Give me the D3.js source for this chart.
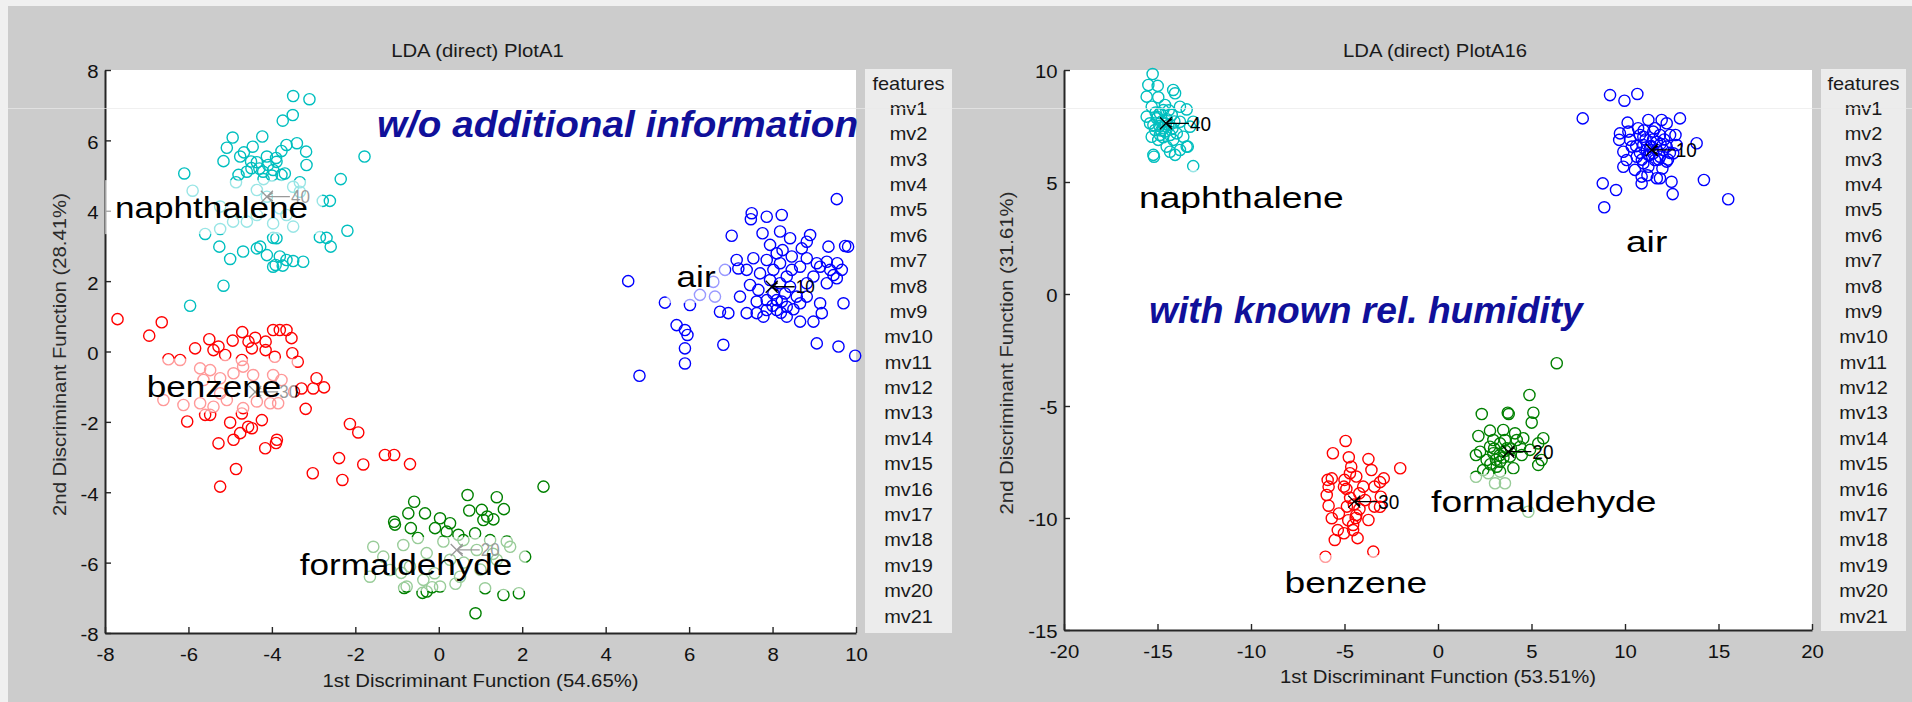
<!DOCTYPE html>
<html>
<head>
<meta charset="utf-8">
<script src="https://cdn.jsdelivr.net/npm/d3@7"></script>
<style>
  body { margin: 0; background: #f0f0f0; }
  svg { display: block; }
</style>
</head>
<body>
<svg id="chart" width="1912" height="702"></svg>
<script>
// ---- data ----
const classNames = ['air', 'formaldehyde', 'benzene', 'naphthalene'];
const classCodes = ['10', '20', '30', '40'];
const classColors = ['#0000ff', '#008000', '#ff0000', '#00bfbf'];

const leftXTicks = [-8, -6, -4, -2, 0, 2, 4, 6, 8, 10];
const leftYTicks = [-8, -6, -4, -2, 0, 2, 4, 6, 8];
const rightXTicks = [-20, -15, -10, -5, 0, 5, 10, 15, 20];
const rightYTicks = [-15, -10, -5, 0, 5, 10];

const featureItems = ['features', 'mv1', 'mv2', 'mv3', 'mv4', 'mv5', 'mv6', 'mv7', 'mv8', 'mv9', 'mv10',
  'mv11', 'mv12', 'mv13', 'mv14', 'mv15', 'mv16', 'mv17', 'mv18', 'mv19', 'mv20', 'mv21'];

const leftAir = [[9.54,4.33],[7.50,3.93],[7.48,3.76],[7.86,3.83],[8.22,3.88],[7.02,3.29],[7.76,3.36],[8.18,3.41],[8.42,3.22],[8.90,3.31],[7.94,3.03],[8.24,2.88],[8.70,2.93],[9.34,2.98],[9.74,3.00],[7.54,2.65],[7.86,2.60],[8.46,2.32],[8.82,2.65],[9.14,2.41],[9.55,2.51],[9.66,2.32],[7.18,2.36],[7.38,2.32],[6.86,2.32],[6.58,1.98],[6.26,1.61],[6.62,1.56],[6.02,1.32],[5.42,1.39],[4.54,2.00],[7.22,1.56],[7.46,1.89],[7.66,1.75],[7.94,2.03],[8.18,1.94],[8.34,2.13],[8.02,1.65],[8.22,1.42],[8.34,1.27],[8.10,1.18],[7.86,1.18],[7.62,1.09],[7.78,0.99],[8.34,0.99],[8.66,0.85],[8.98,0.85],[9.18,1.09],[8.82,1.94],[9.30,1.94],[9.54,2.08],[9.70,1.37],[6.74,1.13],[6.94,1.09],[5.70,0.75],[5.90,0.61],[5.96,0.47],[5.90,0.09],[5.90,-0.34],[6.82,0.19],[9.06,0.23],[9.58,0.14],[9.98,-0.12],[4.81,-0.69],[7.14,2.60],[7.38,1.09],[8.58,1.56],[8.82,1.56],[8.66,2.41],[9.06,2.51],[9.38,2.32],[8.02,2.32],[7.70,2.22],[8.18,2.51],[8.46,2.70],[8.10,2.79],[8.98,2.13],[9.46,2.17],[8.42,1.84],[7.86,1.46],[8.10,1.46],[7.62,1.42],[8.66,1.37],[9.14,1.37],[8.30,1.65],[8.82,3.12],[9.30,2.55],[9.81,2.98],[8.0,1.3],[8.2,1.1],[8.5,1.2]];

const leftFormaldehyde = [[2.51,-3.84],[0.69,-4.08],[1.39,-4.14],[-0.59,-4.27],[0.73,-4.52],[1.03,-4.50],[1.56,-4.48],[1.16,-4.69],[1.31,-4.77],[1.07,-4.79],[-0.73,-4.60],[-0.33,-4.60],[-1.07,-4.84],[-1.05,-4.92],[-0.67,-5.02],[0.03,-4.74],[0.27,-4.88],[-0.09,-5.02],[0.47,-5.21],[0.87,-5.17],[1.23,-5.36],[0.19,-5.12],[1.63,-5.40],[2.07,-5.83],[-1.57,-5.55],[-1.65,-6.40],[-0.85,-5.50],[-0.29,-5.73],[0.11,-5.40],[0.59,-5.36],[0.91,-5.64],[-0.69,-6.11],[-0.37,-6.49],[-0.77,-6.68],[-0.29,-6.82],[0.03,-6.68],[0.51,-6.40],[1.11,-6.73],[1.55,-6.92],[1.92,-6.87],[0.88,-7.44],[-1.17,-6.21],[0.27,-5.92],[1.71,-5.55],[1.39,-5.92],[-1.33,-5.83],[-0.90,-6.29],[-0.83,-6.72],[-0.39,-6.86],[-0.16,-6.70],[0.6,-6.0],[1.0,-6.2],[-0.1,-6.3],[0.4,-6.6],[1.3,-5.75],[-0.5,-5.3]];

const leftBenzene = [[-7.70,0.92],[-6.64,0.83],[-6.94,0.45],[-5.84,0.09],[-6.48,-0.22],[-6.20,-0.24],[-5.50,0.35],[-5.28,0.14],[-4.94,0.31],[-4.71,0.55],[-4.56,0.28],[-4.40,0.39],[-4.48,0.09],[-4.15,0.28],[-3.97,0.61],[-3.81,0.61],[-3.65,0.61],[-3.53,0.38],[-4.15,0.04],[-3.93,-0.15],[-3.51,-0.05],[-3.38,-0.29],[-5.40,0.04],[-5.12,-0.10],[-4.72,-0.24],[-2.93,-0.76],[-3.01,-1.05],[-2.75,-1.02],[-3.29,-1.05],[-3.19,-1.63],[-6.03,-1.99],[-5.00,-2.02],[-4.24,-1.95],[-4.48,-2.18],[-4.76,-2.32],[-4.92,-2.51],[-5.28,-2.61],[-4.16,-2.75],[-3.88,-2.51],[-3.90,-2.60],[-4.86,-3.34],[-5.24,-3.84],[-2.13,-2.06],[-1.93,-2.30],[-2.39,-3.03],[-1.81,-3.21],[-3.02,-3.46],[-2.31,-3.65],[-1.29,-2.94],[-1.07,-2.94],[-0.69,-3.20],[-5.72,-0.48],[-5.48,-0.53],[-5.64,-0.81],[-5.24,-0.76],[-4.92,-0.62],[-4.69,-0.43],[-4.45,-0.67],[-3.97,-0.67],[-3.77,-0.81],[-6.12,-1.52],[-5.72,-1.47],[-5.40,-1.57],[-5.08,-1.38],[-4.69,-1.61],[-4.36,-1.42],[-4.04,-1.47],[-3.85,-1.47],[-6.60,-1.38],[-5.48,-1.80],[-4.72,-1.76],[-5.24,-1.19],[-4.57,-2.14],[-5.60,-1.80],[-3.47,-1.14]];

const leftNaphthalene = [[-3.49,7.26],[-3.10,7.17],[-3.50,6.72],[-3.74,6.56],[-4.94,6.08],[-4.23,6.11],[-5.08,5.79],[-5.16,5.41],[-4.67,5.66],[-4.46,5.82],[-3.65,5.87],[-3.40,5.92],[-3.18,5.68],[-3.17,5.30],[-3.77,5.70],[-4.12,5.54],[-4.36,5.38],[-4.21,5.11],[-3.97,5.16],[-4.60,5.11],[-4.80,5.02],[-3.77,5.02],[-6.10,5.06],[-1.78,5.54],[-2.35,4.90],[-5.90,4.57],[-3.33,4.81],[-4.86,4.81],[-4.36,4.59],[-3.49,4.68],[-2.78,4.28],[-2.61,4.28],[-5.24,4.12],[-4.60,3.69],[-3.97,3.64],[-3.49,3.55],[-5.60,3.34],[-5.24,3.48],[-3.97,3.23],[-2.85,3.25],[-2.69,3.23],[-2.19,3.43],[-5.26,2.98],[-4.69,2.84],[-5.00,2.63],[-4.28,2.98],[-4.12,2.74],[-3.81,2.70],[-3.49,2.57],[-3.25,2.55],[-3.97,2.41],[-3.74,2.44],[-2.59,2.98],[-5.16,1.87],[-5.96,1.30],[-4.09,5.30],[-3.89,5.39],[-4.49,5.21],[-4.76,5.54],[-3.69,5.06],[-4.12,4.40],[-3.81,4.07],[-4.93,3.69],[-4.36,3.88],[-3.65,3.88],[-3.33,4.54],[-3.89,3.22],[-4.36,2.93],[-3.91,2.46],[-3.65,2.60],[-4.3,5.2],[-4.0,5.0],[-4.5,5.4],[-3.9,5.5],[-4.2,4.9]];

const rightAir = [[9.20,8.88],[9.97,8.63],[10.66,8.93],[7.74,7.84],[12.94,7.84],[11.25,7.77],[11.96,7.77],[10.14,7.65],[12.23,7.62],[13.83,6.73],[9.69,6.88],[10.18,7.25],[10.80,7.10],[11.51,7.25],[12.41,7.10],[12.76,6.65],[10.36,6.58],[10.98,6.65],[11.70,6.80],[12.23,6.58],[9.91,6.35],[10.63,6.13],[11.25,6.21],[11.87,6.13],[12.58,6.28],[10.09,5.98],[9.91,5.68],[10.53,5.54],[11.25,5.68],[12.23,5.91],[10.89,5.24],[11.70,5.17],[10.89,4.94],[12.49,5.01],[14.22,5.09],[8.81,4.94],[9.52,4.64],[12.55,4.46],[15.52,4.23],[8.89,3.87],[11.87,5.17],[11.34,6.58],[10.98,7.02],[11.87,7.10],[12.05,6.43],[11.60,5.98],[10.98,5.83],[10.27,6.88],[9.73,7.17],[11.51,6.28],[11.16,6.43],[11.70,6.43],[11.4,6.6],[11.9,6.7],[11.1,6.9],[12.4,6.3],[10.6,6.6],[11.6,7.4],[12.0,5.6],[10.7,7.4],[11.2,5.3],[12.7,7.1],[11.3,6.2],[11.8,6.0],[10.8,6.3],[12.1,6.9],[11.5,6.9],[10.9,6.0],[11.0,7.3],[12.3,6.0]];

const rightFormaldehyde = [[6.35,-3.09],[4.89,-4.51],[2.34,-5.36],[3.73,-5.30],[3.78,-5.36],[5.10,-5.30],[5.01,-5.74],[2.16,-6.34],[2.78,-6.10],[3.49,-6.07],[4.12,-6.22],[4.56,-6.44],[5.63,-6.44],[5.36,-6.67],[2.03,-7.19],[2.78,-6.82],[3.32,-6.67],[2.96,-7.11],[3.67,-6.89],[4.39,-6.82],[4.92,-6.96],[2.60,-7.41],[3.32,-7.49],[4.03,-7.78],[5.36,-7.63],[5.54,-7.41],[2.03,-8.16],[2.69,-8.00],[3.32,-7.93],[3.05,-8.45],[3.58,-8.45],[4.83,-9.72],[2.42,-7.86],[3.14,-7.71],[3.85,-7.26],[4.48,-7.19],[4.21,-6.52],[2.25,-7.04],[2.96,-6.52],[3.58,-6.52],[3.3,-7.2],[3.6,-7.0],[3.1,-7.4],[3.9,-6.9],[2.8,-7.6],[3.0,-6.9],[3.5,-7.3]];

const rightBenzene = [[-4.94,-6.56],[-5.62,-7.11],[-4.77,-7.29],[-3.72,-7.37],[-2.02,-7.78],[-4.64,-7.71],[-5.68,-8.23],[-4.71,-8.00],[-3.56,-7.86],[-2.90,-8.23],[-5.85,-8.60],[-5.03,-8.60],[-3.40,-8.60],[-5.95,-8.97],[-4.21,-8.90],[-3.06,-9.05],[-5.85,-9.45],[-4.87,-9.49],[-3.40,-9.49],[-5.68,-10.01],[-4.37,-9.87],[-3.72,-10.09],[-4.54,-10.31],[-5.36,-10.54],[-5.03,-10.68],[-5.52,-10.98],[-4.54,-10.54],[-6.02,-11.73],[-3.46,-11.50],[-4.37,-8.15],[-5.0,-8.3],[-3.9,-9.2],[-4.7,-9.1],[-5.3,-9.8],[-4.2,-9.6],[-3.1,-8.4],[-4.3,-10.9],[-4.9,-8.7],[-3.1,-9.5],[-5.9,-8.3],[-4.5,-9.4],[-4.4,-10.0],[-4.8,-10.1],[-4.0,-8.6]];

const rightNaphthalene = [[-15.26,9.82],[-15.49,9.33],[-14.99,9.29],[-14.16,9.11],[-15.58,8.81],[-14.96,8.78],[-14.06,8.96],[-15.31,8.36],[-14.60,8.44],[-13.80,8.36],[-13.44,8.24],[-14.87,8.07],[-14.24,7.99],[-15.40,7.62],[-14.78,7.69],[-14.42,7.54],[-13.80,7.69],[-13.09,7.69],[-15.13,7.32],[-14.60,7.25],[-13.97,7.17],[-14.96,6.88],[-14.16,6.88],[-13.44,6.58],[-14.51,6.58],[-15.22,6.21],[-14.33,6.35],[-14.06,6.21],[-13.09,5.71],[-15.58,7.92],[-15.04,7.84],[-14.69,8.21],[-15.22,7.54],[-14.69,7.40],[-14.33,7.10],[-13.62,7.02],[-14.87,7.10],[-13.80,6.43],[-13.26,7.47],[-15.31,7.02],[-15.19,6.13],[-13.38,6.58],[-14.9,7.5],[-14.5,7.8],[-14.7,7.0],[-14.2,7.4],[-15.0,7.9],[-14.4,8.2],[-14.8,7.3],[-14.1,7.7],[-14.55,7.6],[-15.1,8.1]];

// class centroids and where the class names sit (same order as classNames)
const leftCentroids = [[7.98, 1.84], [0.43, -5.64], [-4.4, -1.15], [-4.12, 4.40]];
const rightCentroids = [[11.43, 6.43], [3.76, -7.04], [-4.48, -9.27], [-14.55, 7.62]];
const leftLabelAt = [[5.70, 1.83], [-3.33, -6.35], [-7.0, -1.28], [-7.76, 3.79]];
const rightLabelAt = [[10.05, 1.875], [-0.37, -9.73], [-8.21, -13.35], [-15.99, 3.84]];

const panels = [
  {
    title: 'LDA (direct) PlotA1',
    xTitle: '1st Discriminant Function (54.65%)',
    yTitle: '2nd Discriminant Function (28.41%)',
    box: { left: 105, right: 856, top: 70, bottom: 633 },
    list: { left: 865, right: 952, top: 69, bottom: 633 },
    xDomain: [-8, 10], yDomain: [-8, 8],
    xTicks: leftXTicks, yTicks: leftYTicks,
    series: [leftAir, leftFormaldehyde, leftBenzene, leftNaphthalene],
    centroids: leftCentroids, labelAt: leftLabelAt,
    note: 'w/o additional information', noteAt: [-1.48, 6.10], noteSx: 1.045,
    labelSx: 1.17, codeSize: 18, yTitleGap: 39, xTitleGap: 54
  },
  {
    title: 'LDA (direct) PlotA16',
    xTitle: '1st Discriminant Function (53.51%)',
    yTitle: '2nd Discriminant Function (31.61%)',
    box: { left: 1064, right: 1812, top: 70, bottom: 630 },
    list: { left: 1821, right: 1906, top: 69, bottom: 631 },
    xDomain: [-20, 20], yDomain: [-15, 10],
    xTicks: rightXTicks, yTicks: rightYTicks,
    series: [rightAir, rightFormaldehyde, rightBenzene, rightNaphthalene],
    centroids: rightCentroids, labelAt: rightLabelAt,
    note: 'with known rel. humidity', noteAt: [-15.45, -1.29], noteSx: 1.005,
    labelSx: 1.24, codeSize: 20, yTitleGap: 51, xTitleGap: 53
  }
];

const FONT = '"Liberation Sans", Arial, Helvetica, sans-serif';
const svg = d3.select('#chart');

svg.append('rect').attr('width', 1912).attr('height', 702).attr('fill', '#f0f0f0');
svg.append('rect').attr('x', 8).attr('y', 6).attr('width', 1904).attr('height', 696).attr('fill', '#cccccc');

// text that is slightly widened, like the original rendering
function stext (sel, x, y, txt, o) {
  return sel.append('text')
    .attr('transform', `translate(${x},${y})${o.rotate ? ` rotate(${o.rotate})` : ''} scale(${o.sx || 1},1)`)
    .attr('text-anchor', o.anchor || 'start')
    .attr('font-family', FONT)
    .attr('font-size', o.size)
    .attr('font-weight', o.weight || 'normal')
    .attr('font-style', o.style || 'normal')
    .attr('fill', o.fill || '#111')
    .text(txt);
}

function drawPanel (p) {
  const g = svg.append('g');
  const b = p.box;
  const x = d3.scaleLinear().domain(p.xDomain).range([b.left, b.right]);
  const y = d3.scaleLinear().domain(p.yDomain).range([b.bottom, b.top]);
  const midX = (b.left + b.right) / 2;

  g.append('rect')
    .attr('x', b.left).attr('y', b.top)
    .attr('width', b.right - b.left).attr('height', b.bottom - b.top)
    .attr('fill', '#ffffff');

  stext(g, midX - 3, 57, p.title, { anchor: 'middle', size: 19, sx: 1.07, fill: '#1a1a1a' });

  // axes, ticks pointing inside like MATLAB
  const xAxis = d3.axisBottom(x).tickValues(p.xTicks).tickSizeInner(-6).tickSizeOuter(0)
    .tickPadding(14.5).tickFormat(d => String(d));
  const yAxis = d3.axisLeft(y).tickValues(p.yTicks).tickSizeInner(-6).tickSizeOuter(0)
    .tickPadding(6).tickFormat(d => String(d));
  const gx = g.append('g').attr('transform', `translate(0,${b.bottom})`).call(xAxis);
  const gy = g.append('g').attr('transform', `translate(${b.left},0)`).call(yAxis);
  for (const ax of [gx, gy]) {
    ax.select('.domain').attr('stroke', '#262626').attr('stroke-width', 2);
    ax.selectAll('.tick line').attr('stroke', '#262626').attr('stroke-width', 1.4);
    ax.selectAll('.tick text')
      .attr('font-family', FONT).attr('font-size', 19).attr('fill', '#111')
      .attr('transform', 'scale(1.07,1)');
  }
  gy.selectAll('.tick text').attr('dy', '0.42em');

  stext(g, midX, b.bottom + p.xTitleGap, p.xTitle, { anchor: 'middle', size: 19, sx: 1.07, fill: '#1a1a1a' });
  stext(g, b.left - p.yTitleGap, (b.top + b.bottom) / 2 + 3, p.yTitle,
    { anchor: 'middle', size: 19, sx: 1.07, rotate: -90, fill: '#2a2a2a' });

  // scores
  p.series.forEach((pts, i) => {
    g.append('g').selectAll('circle').data(pts).join('circle')
      .attr('cx', d => x(d[0])).attr('cy', d => y(d[1]))
      .attr('r', 5.6)
      .attr('fill', 'none')
      .attr('stroke', classColors[i])
      .attr('stroke-width', 1.4);
  });

  // class centroids: x marker, a left arrow pointing at it, and the class code
  p.centroids.forEach((c, i) => {
    const cx = x(c[0]);
    const cy = y(c[1]);
    g.append('path')
      .attr('d', `M${cx - 6},${cy - 6}L${cx + 6},${cy + 6}M${cx - 6},${cy + 6}L${cx + 6},${cy - 6}` +
        `M${cx},${cy}H${cx + 23}M${cx + 6},${cy - 4}L${cx},${cy}L${cx + 6},${cy + 4}`)
      .attr('fill', 'none')
      .attr('stroke', '#000').attr('stroke-width', 1.3);
    stext(g, cx + 24, cy + p.codeSize * 0.36, classCodes[i], { size: p.codeSize, sx: 0.95, fill: '#000' });
  });

  // class names on a half-transparent white box
  p.labelAt.forEach((l, i) => {
    const lx = x(l[0]);
    const ly = y(l[1]);
    const lg = g.append('g');
    const rect = lg.append('rect');
    const t = stext(lg, lx, ly, classNames[i], { size: 30, sx: p.labelSx, fill: '#000' });
    const w = t.node().getComputedTextLength() * p.labelSx;
    rect.attr('x', lx - 10).attr('y', ly - 38)
      .attr('width', w + 24).attr('height', 54)
      .attr('fill', '#ffffff').attr('fill-opacity', 0.6);
  });

  stext(g, x(p.noteAt[0]), y(p.noteAt[1]), p.note,
    { size: 37, weight: 'bold', style: 'italic', sx: p.noteSx, fill: '#10109a' });

  // feature list box
  const L = p.list;
  g.append('rect')
    .attr('x', L.left).attr('y', L.top)
    .attr('width', L.right - L.left).attr('height', L.bottom - L.top)
    .attr('fill', '#ececec');
  const rowY = d3.scalePoint().domain(featureItems).range([89.5, 622.5]);
  featureItems.forEach(f => {
    stext(g, (L.left + L.right) / 2, rowY(f), f, { anchor: 'middle', size: 19, sx: 1.05, fill: '#1a1a1a' });
  });
}

panels.forEach(drawPanel);

// faint scan line running across the whole picture
svg.append('line')
  .attr('x1', 8).attr('x2', 1912).attr('y1', 108.5).attr('y2', 108.5)
  .attr('stroke', '#e9e9e9').attr('stroke-opacity', 0.7);
</script>
</body>
</html>
